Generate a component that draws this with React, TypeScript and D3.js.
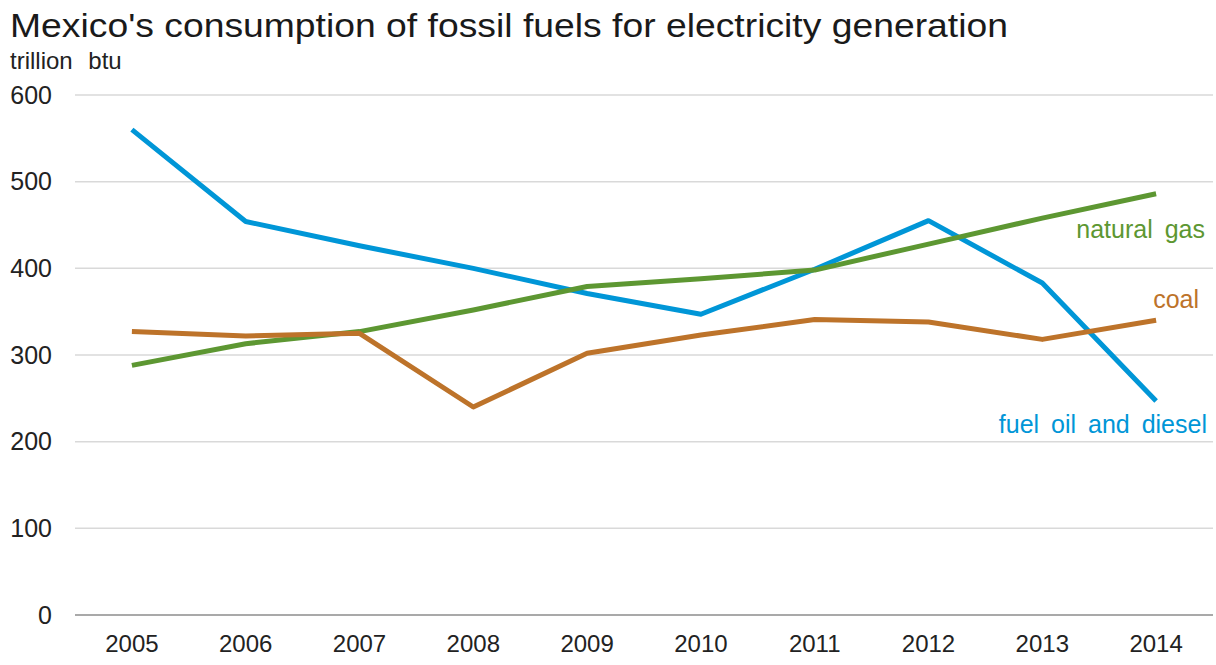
import React from "react";
import * as d3 from "d3";

const years = ["2005","2006","2007","2008","2009","2010","2011","2012","2013","2014"];
const fuelOil = [560, 454, 426, 400, 371, 347, 399, 455, 383, 247];
const naturalGas = [288, 313, 327, 352, 379, 388, 398, 428, 458, 486];
const coal = [327, 322, 325, 240, 302, 323, 341, 338, 318, 340];
const yTicks = [0, 100, 200, 300, 400, 500, 600];

const series = [
  { name: "fuel oil and diesel", values: fuelOil, color: "#0096D7", lx: 1207, ly: 433 },
  { name: "natural gas", values: naturalGas, color: "#5D9732", lx: 1205, ly: 238 },
  { name: "coal", values: coal, color: "#BD732A", lx: 1199, ly: 308 },
];

const W = 1216, H = 665;
const left = 75, right = 1213, top = 95, bottom = 615;
const FONT = "'Liberation Sans', Arial, sans-serif";

export default function App() {
  const x = d3.scalePoint<string>().domain(years).range([left, right]).padding(0.5);
  const y = d3.scaleLinear().domain([0, 600]).range([bottom, top]);
  const line = d3.line<number>().x((_, i) => x(years[i]) as number).y((v) => y(v));

  return (
    <div style={{ position: "absolute", left: 0, top: 0 }}>
      <svg width={W} height={H} style={{ display: "block", background: "#fff" }}>
        <text x={10} y={37} fontFamily={FONT} fontSize={34} fill="#1a1a1a" textLength={998} lengthAdjust="spacingAndGlyphs">
          Mexico's consumption of fossil fuels for electricity generation
        </text>
        <text x={10} y={69} fontFamily={FONT} fontSize={24} fill="#222" wordSpacing={9}>trillion btu</text>
        {yTicks.map((t) => (
          <g key={t}>
            {t > 0 && (
              <line x1={left} x2={right} y1={y(t)} y2={y(t)} stroke="#d9d9d9" strokeWidth={1.5} />
            )}
            <text x={52} y={y(t)} dy="0.35em" textAnchor="end" fontFamily={FONT} fontSize={25} fill="#222">
              {t}
            </text>
          </g>
        ))}
        <line x1={left} x2={right} y1={y(0)} y2={y(0)} stroke="#8c8c8c" strokeWidth={1.5} />
        {years.map((yr) => (
          <text key={yr} x={x(yr) as number} y={652} textAnchor="middle" fontFamily={FONT} fontSize={24} fill="#222">
            {yr}
          </text>
        ))}
        {series.map((s) => (
          <path key={s.name} d={line(s.values) as string} fill="none" stroke={s.color} strokeWidth={5} strokeLinejoin="round" />
        ))}
        {series.map((s) => (
          <text key={s.name + "l"} x={s.lx} y={s.ly} textAnchor="end" fontFamily={FONT} fontSize={25} wordSpacing={5} fill={s.color}>
            {s.name}
          </text>
        ))}
      </svg>
    </div>
  );
}
